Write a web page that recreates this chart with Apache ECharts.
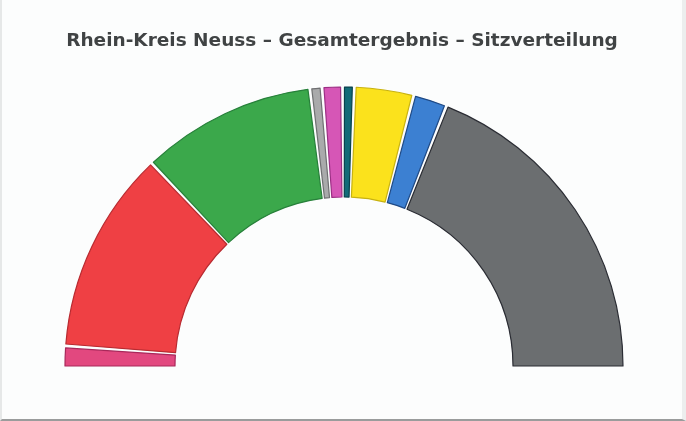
<!DOCTYPE html>
<html>
<head>
<meta charset="utf-8">
<script src="https://cdn.jsdelivr.net/npm/echarts@6/dist/echarts.min.js"></script>
<style>
  html, body { margin: 0; padding: 0; background: #fcfdfd; }
  #chart {
    width: 686px;
    height: 421px;
    box-sizing: border-box;
    border-left: 2px solid #e6e8e8;
    border-right: 4px solid #eceeee;
    border-bottom: 2px solid #9a9c9c;
  }
</style>
</head>
<body>
<div id="chart"></div>
<script>
  // Sitzverteilung, von links nach rechts (Werte aus dem Bild geschaetzt)
  var parties = ['Pink', 'Rot', 'Grün', 'Grau', 'Magenta', 'Petrol', 'Gelb', 'Blau', 'Dunkelgrau']
  var seats = [4.5, 42.2, 36.3, 2.5, 4.2, 2.4, 12.3, 7.0, 68.6]
  var fillColors = ['#e2487f', '#ef4044', '#3ba84b', '#a9aaab', '#d656b6', '#126b78', '#fbe21c', '#3c80d2', '#6b6e70']
  var borderColors = ['#a8285a', '#b82a30', '#27803a', '#6f7072', '#9c2f84', '#08424c', '#c8b210', '#1f4a86', '#2a2c33']

  var chart = echarts.init(document.getElementById('chart'))

  var data = parties.map(function (name, i) {
    return {
      name: name,
      value: seats[i],
      itemStyle: {
        color: fillColors[i],
        borderColor: borderColors[i],
        borderWidth: 1.2
      }
    }
  })

  chart.setOption({
    title: {
      text: 'Rhein-Kreis Neuss – Gesamtergebnis – Sitzverteilung',
      left: 'center',
      top: 27,
      textStyle: {
        color: '#404344',
        fontSize: 18.5,
        fontWeight: 'bold',
        fontFamily: 'DejaVu Sans'
      }
    },
    series: [{
      type: 'pie',
      center: [342, 366],
      radius: [169, 279],
      // padAngle halb an jedem Ende ausgleichen, damit die Unterkante waagerecht bleibt
      startAngle: 180.4,
      endAngle: -0.4,
      padAngle: 0.8,
      silent: true,
      animation: false,
      label: { show: false },
      labelLine: { show: false },
      data: data
    }]
  })
</script>
</body>
</html>
